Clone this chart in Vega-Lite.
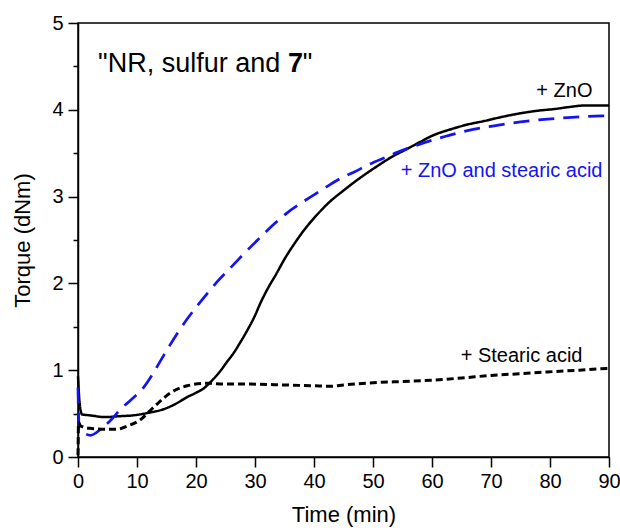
{
  "$schema": "https://vega.github.io/schema/vega-lite/v6.json",
  "width": 531,
  "height": 434,
  "autosize": {"type": "none"},
  "padding": {"left": 78, "top": 23, "right": 11, "bottom": 71},
  "background": "white",
  "config": {
    "view": {"stroke": "black", "strokeWidth": 1.5},
    "font": "Liberation Sans",
    "axis": {
      "domainColor": "black", "domainWidth": 1.5, "tickColor": "black", "tickWidth": 1.5,
      "labelColor": "black", "titleColor": "black", "labelFont": "Liberation Sans", "titleFont": "Liberation Sans",
      "labelFontSize": 20, "titleFontSize": 22, "titleFontWeight": "normal", "grid": false,
      "labelFlush": false, "labelOverlap": false
    }
  },
  "datasets": {
    "curves": [
      {"t": 0, "v": 0.93, "s": "ZnO"}, {"t": 0.3, "v": 0.6, "s": "ZnO"}, {"t": 0.7, "v": 0.49, "s": "ZnO"}, {"t": 2, "v": 0.48, "s": "ZnO"},
      {"t": 4.6, "v": 0.46, "s": "ZnO"}, {"t": 7, "v": 0.47, "s": "ZnO"}, {"t": 9.4, "v": 0.48, "s": "ZnO"}, {"t": 12, "v": 0.51, "s": "ZnO"},
      {"t": 14.5, "v": 0.55, "s": "ZnO"}, {"t": 16.5, "v": 0.61, "s": "ZnO"}, {"t": 18.5, "v": 0.69, "s": "ZnO"}, {"t": 20, "v": 0.74, "s": "ZnO"},
      {"t": 21.3, "v": 0.79, "s": "ZnO"}, {"t": 22.4, "v": 0.86, "s": "ZnO"}, {"t": 24, "v": 0.98, "s": "ZnO"}, {"t": 25.3, "v": 1.1, "s": "ZnO"},
      {"t": 26.4, "v": 1.2, "s": "ZnO"}, {"t": 27.5, "v": 1.32, "s": "ZnO"}, {"t": 28.7, "v": 1.46, "s": "ZnO"}, {"t": 30, "v": 1.63, "s": "ZnO"},
      {"t": 30.9, "v": 1.77, "s": "ZnO"}, {"t": 32, "v": 1.92, "s": "ZnO"}, {"t": 33.7, "v": 2.12, "s": "ZnO"}, {"t": 35, "v": 2.28, "s": "ZnO"},
      {"t": 36.6, "v": 2.45, "s": "ZnO"}, {"t": 38.5, "v": 2.63, "s": "ZnO"}, {"t": 40.5, "v": 2.79, "s": "ZnO"}, {"t": 42.5, "v": 2.93, "s": "ZnO"},
      {"t": 45, "v": 3.07, "s": "ZnO"}, {"t": 47.5, "v": 3.2, "s": "ZnO"}, {"t": 50.7, "v": 3.35, "s": "ZnO"}, {"t": 53, "v": 3.45, "s": "ZnO"},
      {"t": 55.8, "v": 3.55, "s": "ZnO"}, {"t": 58, "v": 3.63, "s": "ZnO"}, {"t": 60, "v": 3.7, "s": "ZnO"}, {"t": 63.4, "v": 3.78, "s": "ZnO"},
      {"t": 66, "v": 3.83, "s": "ZnO"}, {"t": 68.8, "v": 3.87, "s": "ZnO"}, {"t": 72, "v": 3.92, "s": "ZnO"}, {"t": 75, "v": 3.96, "s": "ZnO"},
      {"t": 78, "v": 3.99, "s": "ZnO"}, {"t": 80.9, "v": 4.01, "s": "ZnO"}, {"t": 83, "v": 4.03, "s": "ZnO"}, {"t": 86, "v": 4.05, "s": "ZnO"},
      {"t": 90, "v": 4.05, "s": "ZnO"},

      {"t": 0, "v": 0.8, "s": "ZnO+SA"}, {"t": 0.2, "v": 0.33, "s": "ZnO+SA"}, {"t": 1, "v": 0.28, "s": "ZnO+SA"}, {"t": 2.1, "v": 0.25, "s": "ZnO+SA"},
      {"t": 4, "v": 0.33, "s": "ZnO+SA"}, {"t": 5.5, "v": 0.42, "s": "ZnO+SA"}, {"t": 7.2, "v": 0.55, "s": "ZnO+SA"}, {"t": 9, "v": 0.66, "s": "ZnO+SA"},
      {"t": 11.1, "v": 0.8, "s": "ZnO+SA"}, {"t": 12.6, "v": 0.95, "s": "ZnO+SA"}, {"t": 14, "v": 1.11, "s": "ZnO+SA"}, {"t": 15.5, "v": 1.28, "s": "ZnO+SA"},
      {"t": 16.8, "v": 1.42, "s": "ZnO+SA"}, {"t": 18.5, "v": 1.59, "s": "ZnO+SA"}, {"t": 20.2, "v": 1.74, "s": "ZnO+SA"}, {"t": 22, "v": 1.89, "s": "ZnO+SA"},
      {"t": 23.6, "v": 2.02, "s": "ZnO+SA"}, {"t": 26, "v": 2.19, "s": "ZnO+SA"}, {"t": 28.1, "v": 2.34, "s": "ZnO+SA"}, {"t": 30.9, "v": 2.53, "s": "ZnO+SA"},
      {"t": 33, "v": 2.67, "s": "ZnO+SA"}, {"t": 35.4, "v": 2.81, "s": "ZnO+SA"}, {"t": 37.7, "v": 2.92, "s": "ZnO+SA"}, {"t": 40, "v": 3.02, "s": "ZnO+SA"},
      {"t": 42.3, "v": 3.12, "s": "ZnO+SA"}, {"t": 44.5, "v": 3.21, "s": "ZnO+SA"}, {"t": 47, "v": 3.29, "s": "ZnO+SA"}, {"t": 49, "v": 3.36, "s": "ZnO+SA"},
      {"t": 52.4, "v": 3.46, "s": "ZnO+SA"}, {"t": 54.1, "v": 3.51, "s": "ZnO+SA"}, {"t": 56.9, "v": 3.58, "s": "ZnO+SA"}, {"t": 60, "v": 3.65, "s": "ZnO+SA"},
      {"t": 62.6, "v": 3.7, "s": "ZnO+SA"}, {"t": 66, "v": 3.76, "s": "ZnO+SA"}, {"t": 70, "v": 3.81, "s": "ZnO+SA"}, {"t": 75, "v": 3.86, "s": "ZnO+SA"},
      {"t": 80.9, "v": 3.9, "s": "ZnO+SA"}, {"t": 85, "v": 3.92, "s": "ZnO+SA"}, {"t": 88.9, "v": 3.93, "s": "ZnO+SA"}, {"t": 90, "v": 3.93, "s": "ZnO+SA"},

      {"t": 0, "v": 0.02, "s": "SA"}, {"t": 0.1, "v": 0.4, "s": "SA"}, {"t": 0.4, "v": 0.36, "s": "SA"}, {"t": 2, "v": 0.33, "s": "SA"},
      {"t": 4.9, "v": 0.32, "s": "SA"}, {"t": 6.6, "v": 0.32, "s": "SA"}, {"t": 8.5, "v": 0.36, "s": "SA"}, {"t": 10.6, "v": 0.43, "s": "SA"},
      {"t": 12, "v": 0.52, "s": "SA"}, {"t": 13.4, "v": 0.61, "s": "SA"}, {"t": 15.7, "v": 0.74, "s": "SA"}, {"t": 18.5, "v": 0.82, "s": "SA"},
      {"t": 21.9, "v": 0.85, "s": "SA"}, {"t": 25, "v": 0.84, "s": "SA"}, {"t": 29.2, "v": 0.84, "s": "SA"}, {"t": 35, "v": 0.83, "s": "SA"},
      {"t": 40, "v": 0.82, "s": "SA"}, {"t": 43, "v": 0.815, "s": "SA"}, {"t": 45, "v": 0.83, "s": "SA"}, {"t": 51.3, "v": 0.86, "s": "SA"},
      {"t": 55, "v": 0.87, "s": "SA"}, {"t": 58.6, "v": 0.88, "s": "SA"}, {"t": 65, "v": 0.91, "s": "SA"}, {"t": 70, "v": 0.94, "s": "SA"},
      {"t": 75, "v": 0.96, "s": "SA"}, {"t": 79.5, "v": 0.98, "s": "SA"}, {"t": 85, "v": 1.0, "s": "SA"}, {"t": 89.7, "v": 1.02, "s": "SA"},
      {"t": 90, "v": 1.02, "s": "SA"}
    ],
    "labels": [
      {"t": 87.2, "v": 4.15, "text": "+ ZnO", "s": "ZnO"},
      {"t": 88.9, "v": 3.23, "text": "+ ZnO and stearic acid", "s": "ZnO+SA"},
      {"t": 85.5, "v": 1.09, "text": "+ Stearic acid", "s": "SA"}
    ],
    "title": [
      {"t": 3.4, "v": 4.43, "text": "\"NR, sulfur and"},
      {"t": 38.1, "v": 4.43, "text": "\""}
    ],
    "titleBold": [
      {"t": 35.6, "v": 4.43, "text": "7"}
    ]
  },
  "layer": [
    {
      "data": {"name": "curves"},
      "mark": {"type": "line", "interpolate": "monotone", "strokeCap": "butt", "strokeJoin": "round"},
      "encoding": {
        "x": {"field": "t", "type": "quantitative", "scale": {"domain": [0, 90], "nice": false},
          "axis": {"title": "Time (min)", "values": [0,5,10,15,20,25,30,35,40,45,50,55,60,65,70,75,80,85,90],
            "labelExpr": "datum.value % 10 === 0 ? format(datum.value, 'd') : ''",
            "tickSize": {"condition": {"test": "datum.value % 10 !== 0", "value": 5}, "value": 10},
            "labelPadding": 4, "titlePadding": 13}},
        "y": {"field": "v", "type": "quantitative", "scale": {"domain": [0, 5], "nice": false},
          "axis": {"title": "Torque (dNm)", "values": [0,0.5,1,1.5,2,2.5,3,3.5,4,4.5,5],
            "labelExpr": "datum.value % 1 === 0 ? format(datum.value, 'd') : ''",
            "tickSize": {"condition": {"test": "datum.value % 1 !== 0", "value": 5}, "value": 10},
            "labelPadding": 5, "titlePadding": 17}},
        "color": {"field": "s", "type": "nominal", "legend": null,
          "scale": {"domain": ["ZnO", "ZnO+SA", "SA"], "range": ["#000000", "#1414f0", "#000000"]}},
        "strokeDash": {"field": "s", "type": "nominal", "legend": null,
          "scale": {"domain": ["ZnO", "ZnO+SA", "SA"], "range": [[1, 0], [16, 9], [7, 4]]}},
        "strokeWidth": {"field": "s", "type": "nominal", "legend": null,
          "scale": {"domain": ["ZnO", "ZnO+SA", "SA"], "range": [2.5, 3, 3]}},
        "order": {"field": "t", "type": "quantitative"}
      }
    },
    {
      "data": {"name": "labels"},
      "mark": {"type": "text", "align": "right", "baseline": "alphabetic", "fontSize": 20, "font": "Liberation Sans"},
      "encoding": {
        "x": {"field": "t", "type": "quantitative"},
        "y": {"field": "v", "type": "quantitative"},
        "text": {"field": "text"},
        "color": {"field": "s", "type": "nominal", "legend": null}
      }
    },
    {
      "data": {"name": "title"},
      "mark": {"type": "text", "align": "left", "baseline": "alphabetic", "fontSize": 27, "font": "Liberation Sans", "color": "black"},
      "encoding": {
        "x": {"field": "t", "type": "quantitative"},
        "y": {"field": "v", "type": "quantitative"},
        "text": {"field": "text"}
      }
    },
    {
      "data": {"name": "titleBold"},
      "mark": {"type": "text", "align": "left", "baseline": "alphabetic", "fontSize": 27, "fontWeight": "bold", "font": "Liberation Sans", "color": "black"},
      "encoding": {
        "x": {"field": "t", "type": "quantitative"},
        "y": {"field": "v", "type": "quantitative"},
        "text": {"field": "text"}
      }
    }
  ]
}
